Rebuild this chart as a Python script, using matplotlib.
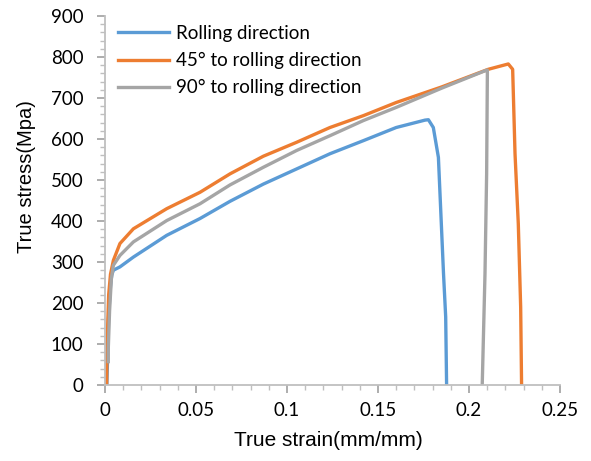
import matplotlib
matplotlib.use("Agg")
import matplotlib.pyplot as plt
from matplotlib.ticker import MultipleLocator

# Data
strain_rd = [0.001, 0.0015, 0.002, 0.003, 0.0037, 0.0046, 0.0082, 0.0156, 0.0339, 0.0522,
             0.0687, 0.087, 0.1053, 0.1236, 0.142, 0.160, 0.1758, 0.1777, 0.1804, 0.1832,
             0.184, 0.186, 0.1872, 0.1877]
stress_rd = [0, 80, 170, 240, 268, 280, 288, 312, 365, 406,
             448, 490, 527, 564, 596, 628, 646, 647, 628, 555,
             474, 272, 166, 0]

strain_45 = [0.0009, 0.001, 0.0015, 0.002, 0.003, 0.0046, 0.0082, 0.0156, 0.0339, 0.0522,
             0.0687, 0.087, 0.1053, 0.1236, 0.142, 0.160, 0.185, 0.2106, 0.2216, 0.224,
             0.2253, 0.2271, 0.2284, 0.2289]
stress_45 = [0, 70, 150, 220, 270, 304, 345, 381, 430, 470,
             515, 558, 592, 628, 657, 689, 727, 770, 783, 770,
             564, 393, 190, 0]

strain_90 = [0.0018, 0.0018, 0.0025, 0.0035, 0.0046, 0.0082, 0.0156, 0.0339, 0.0522, 0.0687,
             0.087, 0.1053, 0.1236, 0.142, 0.160, 0.185, 0.2097, 0.2101, 0.2101, 0.2097,
             0.2088, 0.2073]
stress_90 = [57, 90, 180, 260, 292, 316, 349, 401, 442, 488,
             531, 572, 608, 645, 677, 724, 768, 768, 758, 515,
             272, 4]

labels = ["Rolling direction", "45° to rolling direction", "90° to rolling direction"]
colors = ["#5B9BD5", "#ED7D31", "#A5A5A5"]

xticks = [0, 0.05, 0.1, 0.15, 0.2, 0.25]
xticklabels = ["0", "0.05", "0.1", "0.15", "0.2", "0.25"]
yticks = [0, 100, 200, 300, 400, 500, 600, 700, 800, 900]

fig = plt.figure(figsize=(5.91, 4.61), dpi=100)
ax = fig.add_axes([0.1777, 0.1649, 0.7698, 0.8004])

for sx, sy, lab, c in zip([strain_rd, strain_45, strain_90],
                          [stress_rd, stress_45, stress_90], labels, colors):
    ax.plot(sx, sy, color=c, lw=2.4, label=lab, solid_joinstyle="round")

ax.set_xlim(0, 0.25)
ax.set_ylim(0, 900)
ax.set_xticks(xticks)
ax.set_xticklabels(xticklabels)
ax.set_yticks(yticks)
ax.xaxis.set_minor_locator(MultipleLocator(0.01))
ax.yaxis.set_minor_locator(MultipleLocator(20))

for s in ["top", "right"]:
    ax.spines[s].set_visible(False)
for s in ["left", "bottom"]:
    ax.spines[s].set_color("#BFBFBF")
    ax.spines[s].set_linewidth(1.3)

ax.tick_params(which="major", direction="out", length=5.5, width=1.2, color="#A0A0A0",
               labelsize=13.5)
ax.tick_params(axis="y", which="major", pad=10)
ax.tick_params(axis="x", which="major", pad=7)
ax.tick_params(which="minor", direction="out", length=3.6, width=1.0, color="#BFBFBF")
for t in ax.get_xticklabels() + ax.get_yticklabels():
    t.set_family("Lato")

ax.set_xlabel("True strain(mm/mm)", fontsize=15, family="Liberation Sans")
ax.set_ylabel("True stress(Mpa)", fontsize=14.5, family="Liberation Sans")
ax.xaxis.set_label_coords(0.49, -0.125)
ax.yaxis.set_label_coords(-0.152, 0.565)

leg = ax.legend(loc="upper left", bbox_to_anchor=(0.0, 1.012), frameon=False,
                prop={"family": "Lato", "size": 13.5}, handlelength=2.7,
                handletextpad=0.4, labelspacing=0.55, borderaxespad=0.3)

fig.savefig("out.png", dpi=100)
